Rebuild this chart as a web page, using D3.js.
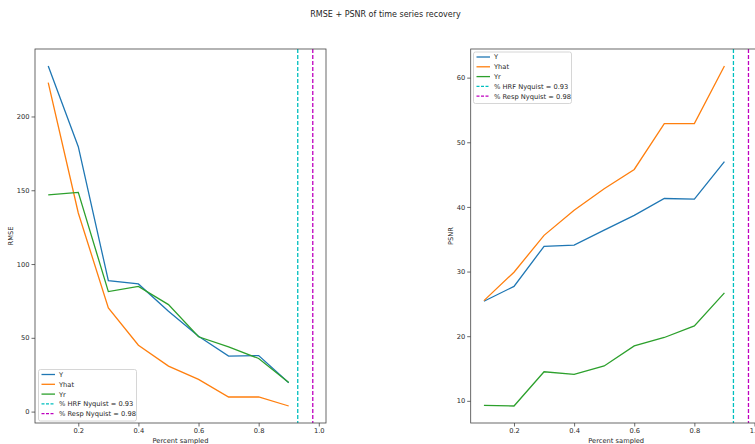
<!DOCTYPE html>
<html>
<head>
<meta charset="utf-8">
<script src="https://cdn.jsdelivr.net/npm/d3@7"></script>
<style>
  body { margin: 0; background: #fff; }
  svg text { font-family: "DejaVu Sans", sans-serif; fill: #262626; }
</style>
</head>
<body>
<svg id="chart" width="755" height="444"></svg>
<script>
// percent sampled
const pct = [0.1, 0.2, 0.3, 0.4, 0.5, 0.6, 0.7, 0.8, 0.9];

// RMSE per series
const rmseY    = [234.2, 179.5, 88.7, 86.5, 68.0, 51.0, 37.6, 38.0, 19.6];
const rmseYhat = [223.0, 134.6, 70.3, 45.0, 30.8, 21.8, 9.9, 9.9, 3.8];
const rmseYr   = [146.8, 148.6, 81.3, 84.9, 72.5, 50.7, 43.9, 36.0, 19.8];

// PSNR per series
const psnrY    = [25.4, 27.7, 33.9, 34.1, 36.4, 38.7, 41.3, 41.2, 47.0];
const psnrYhat = [25.5, 29.9, 35.6, 39.5, 42.8, 45.8, 52.9, 52.9, 61.8];
const psnrYr   = [9.3, 9.2, 14.5, 14.1, 15.4, 18.5, 19.8, 21.6, 26.7];

const hrfNyquist = 0.93;
const respNyquist = 0.98;

const rmseTicks = [0, 50, 100, 150, 200];
const psnrTicks = [10, 20, 30, 40, 50, 60];
const xTicks = [0.2, 0.4, 0.6, 0.8, 1.0];

const seriesNames = ["Y", "Yhat", "Yr"];
const seriesColors = ["#1f77b4", "#ff7f0e", "#2ca02c"];
const vlineLabels = ["% HRF Nyquist = " + hrfNyquist, "% Resp Nyquist = " + respNyquist];
const vlineColors = ["#00bfbf", "#bf00bf"];

const svg = d3.select("#chart");

svg.append("text")
    .attr("x", 385.5).attr("y", 17)
    .attr("text-anchor", "middle")
    .attr("font-size", "8px")
    .text("RMSE + PSNR of time series recovery");

// pad domain like matplotlib (5% margins)
function padded(vals) {
    const lo = d3.min(vals), hi = d3.max(vals), m = (hi - lo) * 0.05;
    return [lo - m, hi + m];
}

function drawPanel(opts) {
    const g = svg.append("g");
    const x = d3.scaleLinear()
        .domain(padded(pct.concat([hrfNyquist, respNyquist])))
        .range([opts.left, opts.left + 291]);
    const y = d3.scaleLinear()
        .domain(padded(d3.merge(opts.series)))
        .range([423, 49]);

    const clipId = "clip" + opts.id;
    g.append("clipPath").attr("id", clipId)
      .append("rect")
        .attr("x", opts.left).attr("y", 49)
        .attr("width", 291).attr("height", 374);

    const plot = g.append("g").attr("clip-path", "url(#" + clipId + ")");

    const line = d3.line()
        .x((d, i) => x(pct[i]))
        .y(d => y(d));

    opts.series.forEach((s, k) => {
        plot.append("path")
            .datum(s)
            .attr("fill", "none")
            .attr("stroke", seriesColors[k])
            .attr("stroke-width", 1.3)
            .attr("d", line);
    });

    [hrfNyquist, respNyquist].forEach((v, k) => {
        plot.append("line")
            .attr("x1", x(v)).attr("x2", x(v))
            .attr("y1", 49).attr("y2", 423)
            .attr("stroke", vlineColors[k])
            .attr("stroke-width", 1.3)
            .attr("stroke-dasharray", "4,2");
    });

    // axes
    const xAxis = g.append("g")
        .attr("transform", "translate(0,423)")
        .call(d3.axisBottom(x).tickValues(xTicks).tickFormat(d3.format(".1f")).tickSizeOuter(0).tickSize(3.5).tickPadding(2));
    const yAxis = g.append("g")
        .attr("transform", "translate(" + opts.left + ",0)")
        .call(d3.axisLeft(y).tickValues(opts.ticks).tickFormat(d3.format("d")).tickSizeOuter(0).tickSize(3.5).tickPadding(2));
    [xAxis, yAxis].forEach(a => {
        a.select(".domain").remove();
        a.selectAll("line").attr("stroke", "#444").attr("stroke-width", 0.8);
        a.selectAll("text").attr("font-size", "6.7px").attr("fill", "#262626").attr("font-family", "DejaVu Sans");
    });

    // frame
    g.append("rect")
        .attr("x", opts.left).attr("y", 49)
        .attr("width", 291).attr("height", 374)
        .attr("fill", "none")
        .attr("stroke", "#444")
        .attr("stroke-width", 0.8);

    g.append("text")
        .attr("x", opts.left + 145.5).attr("y", 443)
        .attr("text-anchor", "middle")
        .attr("font-size", "6.7px")
        .text("Percent sampled");

    g.append("text")
        .attr("transform", "translate(" + opts.ylabX + ",236) rotate(-90)")
        .attr("text-anchor", "middle")
        .attr("font-size", "6.7px")
        .text(opts.ylabel);

    // legend
    const lg = g.append("g").attr("transform", "translate(" + opts.legX + "," + opts.legY + ")");
    lg.append("rect")
        .attr("width", 98).attr("height", 51.5)
        .attr("rx", 2)
        .attr("fill", "#fff").attr("fill-opacity", 0.8)
        .attr("stroke", "#ccc").attr("stroke-width", 0.8);
    const items = seriesNames.map((n, i) => ({label: n, color: seriesColors[i], dash: null}))
        .concat(vlineLabels.map((n, i) => ({label: n, color: vlineColors[i], dash: "3,1.5"})));
    items.forEach((it, i) => {
        const yy = 5 + i * 9.8;
        lg.append("line")
            .attr("x1", 3).attr("x2", 16.5)
            .attr("y1", yy).attr("y2", yy)
            .attr("stroke", it.color)
            .attr("stroke-width", 1.3)
            .attr("stroke-dasharray", it.dash);
        lg.append("text")
            .attr("x", 20.5).attr("y", yy + 2.4)
            .attr("font-size", "6.7px")
            .text(it.label);
    });
}

drawPanel({id: "rmse", left: 35, series: [rmseY, rmseYhat, rmseYr], ticks: rmseTicks,
           ylabel: "RMSE", ylabX: 13, legX: 38.5, legY: 369.5});
drawPanel({id: "psnr", left: 470.7, series: [psnrY, psnrYhat, psnrYr], ticks: psnrTicks,
           ylabel: "PSNR", ylabX: 453, legX: 473.5, legY: 52});
</script>
</body>
</html>
